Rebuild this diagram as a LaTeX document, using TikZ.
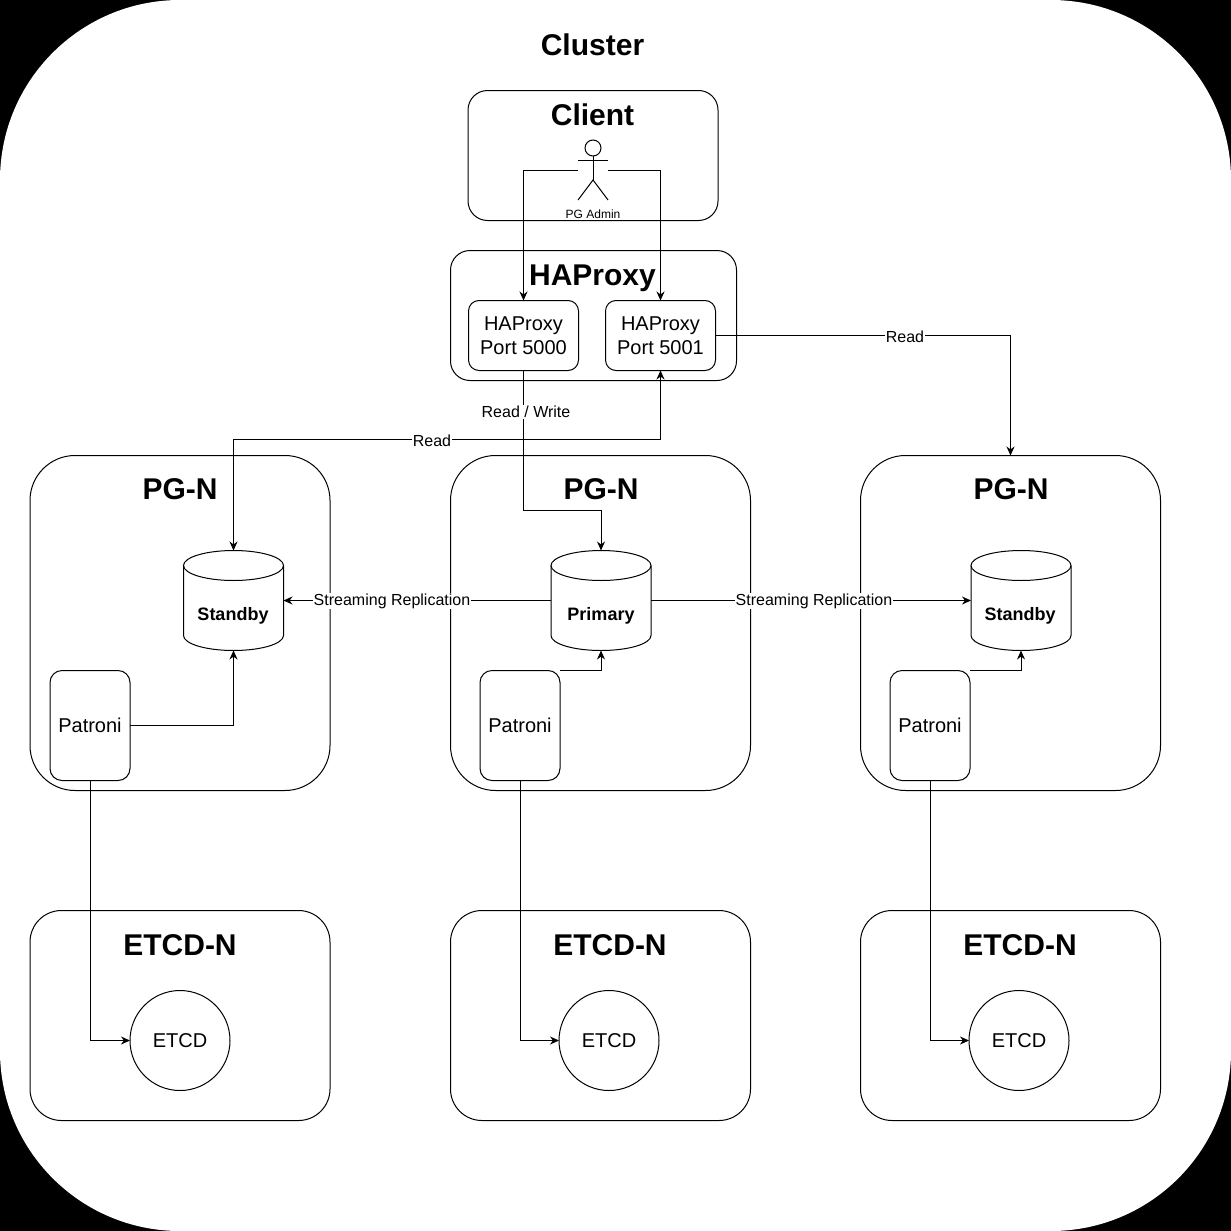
\documentclass[tikz,border=0pt]{standalone}
\usepackage{fontspec}
\setmainfont{Liberation Sans}
\usetikzlibrary{arrows.meta}
\tikzset{
  x=1pt,y=-1pt,
  conn/.style={-{Stealth[length=9pt,width=8pt]}},
  bothconn/.style={{Stealth[length=9pt,width=8pt]}-{Stealth[length=9pt,width=8pt]}},
  box/.style={draw,rectangle,inner sep=0pt,outer sep=0pt},
  bigtitle/.style={font=\fontsize{30}{36}\selectfont\bfseries,inner sep=0pt},
  plaintext/.style={font=\fontsize{20}{24}\selectfont,inner sep=0pt,align=center},
  dbcyl/.style={rectangle,minimum width=100pt,minimum height=100pt,inner sep=0pt,outer sep=0pt},
  dbtext/.style={font=\fontsize{18}{22}\selectfont\bfseries,inner sep=0pt},
  lbl/.style={font=\fontsize{16}{19}\selectfont,fill=white,inner sep=1pt}
}
\newcommand{\dbshape}[1]{
\draw (#1.north west) ++(0,15) -- ++(0,70) arc[start angle=180,end angle=360,x radius=50pt,y radius=15pt] -- ++(0,-70);
\draw (#1.north) ++(0,15) ellipse [x radius=50pt,y radius=15pt];
}
\begin{document}
\begin{tikzpicture}[line width=1pt]
\useasboundingbox (0,0) rectangle (1231,1231);
\fill[black] (0,0) rectangle (1231,1231);
\node[rectangle,fill=white,rounded corners=180pt,inner sep=0pt,outer sep=0pt,minimum width=1231pt,minimum height=1231pt] (cluster) at (615.5,615.5) {};
\node[bigtitle] (clustertitle) at (592.5,45) {Cluster};

\node[box,rounded corners=19.5pt,minimum width=250pt,minimum height=130pt] (client) at (593,155.5) {};
\node[bigtitle] (clienttitle) at (592.5,115) {Client};
\node[minimum width=30pt,minimum height=60pt,inner sep=0pt,outer sep=0pt] (admin) at (593,170.5) {};
\draw (593,148) circle (8);
\draw (593,156) -- (593,180);
\draw (578,160.5) -- (608,160.5);
\draw (578,200) -- (593,180) -- (608,200);
\node[font=\fontsize{12}{14}\selectfont,inner sep=0pt] (admintext) at (593,214.5) {PG Admin};

\node[box,rounded corners=19.5pt,minimum width=286pt,minimum height=130pt] (haproxy) at (593.5,315.5) {};
\node[bigtitle] (haproxytitle) at (592.5,278) {HAProxy};
\node[box,plaintext,rounded corners=10.5pt,minimum width=110pt,minimum height=70pt] (portrw) at (523.5,335.5) {HAProxy\\Port 5000};
\node[box,plaintext,rounded corners=10.5pt,minimum width=110pt,minimum height=70pt] (portro) at (660.5,335.5) {HAProxy\\Port 5001};

\node[box,rounded corners=45pt,minimum width=300pt,minimum height=335pt] (pgleft) at (180,623) {};
\node[box,rounded corners=45pt,minimum width=300pt,minimum height=335pt] (pgmid) at (600.5,623) {};
\node[box,rounded corners=45pt,minimum width=300pt,minimum height=335pt] (pgright) at (1010.5,623) {};
\node[bigtitle] (pglefttitle) at (180,489) {PG-N};
\node[bigtitle] (pgmidtitle) at (601,489) {PG-N};
\node[bigtitle] (pgrighttitle) at (1011,489) {PG-N};

\node[dbcyl] (standbyl) at (233.5,600.5) {};
\node[dbcyl] (primary) at (601,600.5) {};
\node[dbcyl] (standbyr) at (1021,600.5) {};
\dbshape{standbyl}
\dbshape{primary}
\dbshape{standbyr}
\node[dbtext] (standbyltext) at (233,616) {Standby};
\node[dbtext] (primarytext) at (601,616) {Primary};
\node[dbtext] (standbyrtext) at (1020,616) {Standby};

\node[box,plaintext,rounded corners=12pt,minimum width=80pt,minimum height=110pt] (patronil) at (90,725.5) {Patroni};
\node[box,plaintext,rounded corners=12pt,minimum width=80pt,minimum height=110pt] (patronim) at (520,725.5) {Patroni};
\node[box,plaintext,rounded corners=12pt,minimum width=80pt,minimum height=110pt] (patronir) at (930,725.5) {Patroni};

\node[box,rounded corners=31.5pt,minimum width=300pt,minimum height=210pt] (etcdboxl) at (180,1015.5) {};
\node[box,rounded corners=31.5pt,minimum width=300pt,minimum height=210pt] (etcdboxm) at (600.5,1015.5) {};
\node[box,rounded corners=31.5pt,minimum width=300pt,minimum height=210pt] (etcdboxr) at (1010.5,1015.5) {};
\node[bigtitle] (etcdtitlel) at (180,945) {ETCD-N};
\node[bigtitle] (etcdtitlem) at (610,945) {ETCD-N};
\node[bigtitle] (etcdtitler) at (1020,945) {ETCD-N};
\node[draw,circle,plaintext,minimum size=100pt,outer sep=0pt] (etcdl) at (180,1040.5) {ETCD};
\node[draw,circle,plaintext,minimum size=100pt,outer sep=0pt] (etcdm) at (609,1040.5) {ETCD};
\node[draw,circle,plaintext,minimum size=100pt,outer sep=0pt] (etcdr) at (1019,1040.5) {ETCD};

\draw[conn] (admin.west) -| (portrw.north);
\draw[conn] (admin.east) -| (portro.north);
\draw[conn] (portrw.south) |- (551,510.5) -| (primary.north);
\draw[conn] (portro.east) -| (pgright.north);
\draw[bothconn] (portro.south) -- ++(0,69) -| (standbyl.north);
\draw[conn] (primary.west) -- (standbyl.east);
\draw[conn] (primary.east) -- (standbyr.west);
\draw[conn] (patronil.east) -| (standbyl.south);
\draw[conn] (patronim.north east) -| (primary.south);
\draw[conn] (patronir.north east) -| (standbyr.south);
\draw[conn] (patronil.south) |- (etcdl.west);
\draw[conn] (patronim.south) |- (etcdm.west);
\draw[conn] (patronir.south) |- (etcdr.west);

\node[lbl] (readwrite) at (526,412) {Read / Write};
\node[lbl] (readr) at (905,337) {Read};
\node[lbl] (readl) at (432,441) {Read};
\node[lbl] (streaml) at (392,601) {Streaming Replication};
\node[lbl] (streamr) at (814,601) {Streaming Replication};
\end{tikzpicture}
\end{document}
